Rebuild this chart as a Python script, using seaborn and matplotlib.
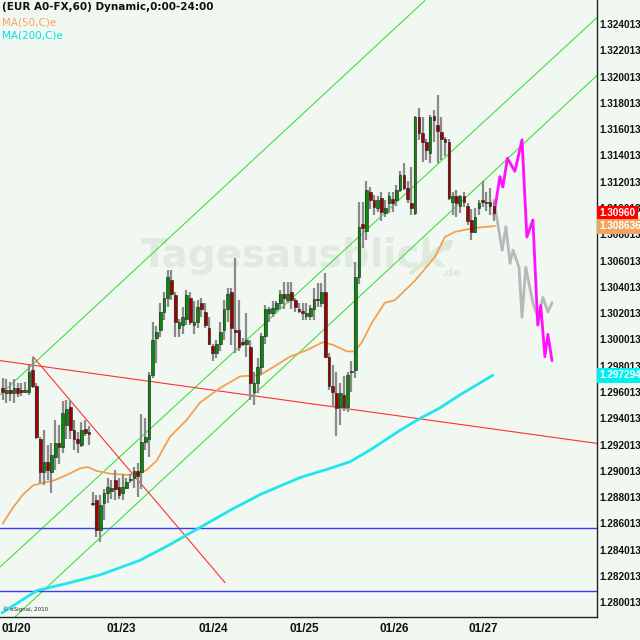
import numpy as np
import pandas as pd
import matplotlib.pyplot as plt
import matplotlib.transforms as mtransforms
import seaborn as sns

# --- hourly EUR/USD candles ---
opens = [1.2963, 1.2959, 1.2962, 1.2959, 1.2963, 1.2962, 1.2960, 1.2960, 1.2977, 1.2965,
         1.2924, 1.2899, 1.2907, 1.2899, 1.2911, 1.2921, 1.2918, 1.2935, 1.2949, 1.2931,
         1.2924, 1.2920, 1.2932, 1.2930, 1.2876, 1.2878, 1.2855, 1.2876, 1.2883, 1.2885,
         1.2893, 1.2888, 1.2883, 1.2887, 1.2893, 1.2895, 1.2900, 1.2899, 1.2922, 1.2924,
         1.2973, 1.3001, 1.3007, 1.3021, 1.3032, 1.3045, 1.3034, 1.3009, 1.3011, 1.3016,
         1.3032, 1.3011, 1.3013, 1.3028, 1.3021, 1.3009, 1.2995, 1.2990, 1.2997, 1.3007,
         1.3023, 1.3036, 1.3007, 1.3007, 1.2998, 1.2997, 1.2994, 1.2960, 1.2967, 1.2979,
         1.3003, 1.3020, 1.3020, 1.3023, 1.3028, 1.3035, 1.3030, 1.3036, 1.3030, 1.3023,
         1.3022, 1.3018, 1.3018, 1.3023, 1.3031, 1.3028, 1.3036, 1.2987, 1.2965, 1.2959,
         1.2949, 1.2958, 1.2949, 1.2975, 1.2977, 1.3048, 1.3088, 1.3083, 1.3112, 1.3106,
         1.3100, 1.3108, 1.3096, 1.3104, 1.3107, 1.3106, 1.3114, 1.3125, 1.3115, 1.3104,
         1.3096, 1.3169, 1.3157, 1.3150, 1.3142, 1.3170, 1.3163, 1.3158, 1.3153, 1.3150,
         1.3105, 1.3109, 1.3102, 1.3109, 1.3102, 1.3091, 1.3082, 1.3100, 1.3106, 1.3104,
         1.3105, 1.3102]
highs = [1.2971, 1.2970, 1.2968, 1.2970, 1.2967, 1.2967, 1.2968, 1.2981, 1.2987, 1.2967,
         1.2926, 1.2931, 1.2920, 1.2921, 1.2939, 1.2935, 1.2953, 1.2954, 1.2954, 1.2939,
         1.2930, 1.2937, 1.2939, 1.2934, 1.2884, 1.2882, 1.2882, 1.2886, 1.2895, 1.2893,
         1.2901, 1.2895, 1.2898, 1.2895, 1.2898, 1.2903, 1.2906, 1.2943, 1.2940, 1.2975,
         1.3013, 1.3010, 1.3028, 1.3036, 1.3053, 1.3053, 1.3036, 1.3016, 1.3025, 1.3038,
         1.3036, 1.3029, 1.3030, 1.3032, 1.3028, 1.3017, 1.2997, 1.3000, 1.3013, 1.3030,
         1.3039, 1.3039, 1.3062, 1.3030, 1.3001, 1.3020, 1.3000, 1.2975, 1.2986, 1.3005,
         1.3026, 1.3025, 1.3029, 1.3029, 1.3038, 1.3044, 1.3044, 1.3044, 1.3032, 1.3028,
         1.3028, 1.3028, 1.3026, 1.3039, 1.3043, 1.3043, 1.3051, 1.2990, 1.2981, 1.2975,
         1.2967, 1.2972, 1.2975, 1.2984, 1.3059, 1.3105, 1.3105, 1.3121, 1.3116, 1.3110,
         1.3109, 1.3112, 1.3106, 1.3112, 1.3112, 1.3118, 1.3128, 1.3134, 1.3121, 1.3131,
         1.3170, 1.3176, 1.3169, 1.3153, 1.3171, 1.3175, 1.3186, 1.3169, 1.3154, 1.3153,
         1.3112, 1.3114, 1.3110, 1.3112, 1.3104, 1.3099, 1.3100, 1.3106, 1.3121, 1.3112,
         1.3115, 1.3105]
lows = [1.2954, 1.2952, 1.2953, 1.2952, 1.2956, 1.2957, 1.2959, 1.2958, 1.2963, 1.2924,
        1.2891, 1.2889, 1.2893, 1.2883, 1.2901, 1.2905, 1.2914, 1.2924, 1.2924, 1.2916,
        1.2914, 1.2918, 1.2927, 1.2920, 1.2873, 1.2850, 1.2846, 1.2863, 1.2876, 1.2879,
        1.2878, 1.2879, 1.2878, 1.2886, 1.2891, 1.2887, 1.2880, 1.2886, 1.2916, 1.2911,
        1.2971, 1.2982, 1.3002, 1.3015, 1.3025, 1.3030, 1.3002, 1.3002, 1.3004, 1.3011,
        1.3011, 1.3004, 1.3009, 1.3017, 1.3009, 1.2996, 1.2984, 1.2986, 1.2991, 1.3000,
        1.3013, 1.2996, 1.2990, 1.2991, 1.2995, 1.2987, 1.2954, 1.2950, 1.2959, 1.2973,
        1.2997, 1.3013, 1.3017, 1.3020, 1.3023, 1.3023, 1.3028, 1.3023, 1.3021, 1.3020,
        1.3015, 1.3015, 1.3015, 1.3015, 1.3025, 1.3025, 1.2986, 1.2962, 1.2949, 1.2927,
        1.2935, 1.2946, 1.2945, 1.2960, 1.2971, 1.3042, 1.3070, 1.3076, 1.3099, 1.3095,
        1.3097, 1.3090, 1.3093, 1.3096, 1.3097, 1.3102, 1.3112, 1.3114, 1.3104, 1.3095,
        1.3095, 1.3152, 1.3135, 1.3137, 1.3134, 1.3150, 1.3134, 1.3137, 1.3140, 1.3106,
        1.3095, 1.3093, 1.3096, 1.3101, 1.3087, 1.3076, 1.3081, 1.3095, 1.3101, 1.3098,
        1.3095, 1.3090]
closes = [1.2960, 1.2962, 1.2959, 1.2963, 1.2959, 1.2960, 1.2962, 1.2975, 1.2965, 1.2926,
          1.2899, 1.2907, 1.2901, 1.2912, 1.2921, 1.2918, 1.2944, 1.2947, 1.2931, 1.2924,
          1.2921, 1.2931, 1.2929, 1.2928, 1.2875, 1.2855, 1.2874, 1.2883, 1.2888, 1.2887,
          1.2886, 1.2882, 1.2888, 1.2892, 1.2893, 1.2900, 1.2896, 1.2922, 1.2926, 1.2973,
          1.3000, 1.3006, 1.3021, 1.3032, 1.3048, 1.3035, 1.3013, 1.3013, 1.3017, 1.3034,
          1.3013, 1.3013, 1.3025, 1.3023, 1.3011, 1.2997, 1.2990, 1.2997, 1.3006, 1.3023,
          1.3035, 1.3009, 1.3006, 1.2994, 1.2997, 1.3000, 1.2967, 1.2967, 1.2979, 1.3003,
          1.3023, 1.3023, 1.3024, 1.3028, 1.3035, 1.3032, 1.3035, 1.3030, 1.3025, 1.3022,
          1.3020, 1.3020, 1.3024, 1.3031, 1.3030, 1.3036, 1.2987, 1.2965, 1.2960, 1.2948,
          1.2959, 1.2949, 1.2973, 1.2976, 1.3048, 1.3086, 1.3085, 1.3114, 1.3106, 1.3101,
          1.3106, 1.3097, 1.3100, 1.3109, 1.3104, 1.3114, 1.3125, 1.3115, 1.3107, 1.3100,
          1.3169, 1.3157, 1.3150, 1.3144, 1.3169, 1.3167, 1.3159, 1.3153, 1.3150, 1.3108,
          1.3109, 1.3104, 1.3109, 1.3105, 1.3090, 1.3082, 1.3093, 1.3104, 1.3105, 1.3104,
          1.3102, 1.3096]

# moving averages (bar position, price)
ma50_bar = [0, 2.7, 5.4, 8.1, 10.7, 13.9, 17.1, 20.6, 22.7, 25.1, 28.6, 33.1, 36.6, 38.5,
            41.1, 44.6, 49.1, 52.6, 57.9, 63.3, 68.6, 72.1, 76.6, 81.1, 85.4, 88.1, 91.8,
            93.9, 95.8, 98.5, 101.9, 104.6, 110.0, 115.3, 117.9, 120.6, 125.9, 131.3]
ma50_val = [1.2860, 1.2872, 1.2882, 1.2889, 1.2891, 1.2893, 1.2897, 1.2902, 1.2903, 1.2900,
            1.2898, 1.2897, 1.2898, 1.2901, 1.2908, 1.2926, 1.2939, 1.2952, 1.2963, 1.2972,
            1.2973, 1.2979, 1.2987, 1.2992, 1.2998, 1.2996, 1.2991, 1.2991, 1.2998, 1.3013,
            1.3028, 1.3030, 1.3045, 1.3063, 1.3078, 1.3082, 1.3085, 1.30864]
ma200_bar = [-0.2, 9.1, 17.9, 26.0, 36.6, 44.6, 52.6, 60.6, 68.6, 79.3, 87.3, 92.6, 98.0,
             106.0, 111.3, 116.6, 122.0, 127.3, 130.7]
ma200_val = [1.2792, 1.2809, 1.2815, 1.2821, 1.2832, 1.2844, 1.2857, 1.2870, 1.2882, 1.2895,
             1.2902, 1.2907, 1.2916, 1.2931, 1.2940, 1.2948, 1.2958, 1.2967, 1.29729]

# projected paths
proj_bar = [131.0, 132.6, 133.4, 134.6, 136.6, 138.5, 139.8, 141.4, 142.7, 143.5, 144.6, 145.4, 146.5]
proj_pink = [1.3095, 1.3124, 1.3116, 1.3138, 1.3128, 1.3152, 1.3078, 1.3091, 1.3011, 1.3026,
             1.2987, 1.3004, 1.2984]
ghost_bar = [131.0, 133.2, 134.2, 135.3, 136.1, 137.7, 138.5, 139.5, 141.4, 142.7, 144.1, 145.4, 146.5]
ghost_val = [1.3106, 1.3068, 1.3086, 1.3058, 1.3068, 1.3055, 1.3017, 1.3055, 1.3028, 1.3017,
             1.3032, 1.3021, 1.3028]

# trend lines: (bar0, price0, bar1, price1)
green_lines = [(-0.7, 1.2958, 112.6, 1.3258),
               (-0.7, 1.2827, 158.5, 1.3245),
               (3.3, 1.2789, 158.5, 1.3201)]
red_lines = [(-0.7, 1.2984, 158.5, 1.2921),
             (8.1, 1.2987, 59.3, 1.2815)]
blue_levels = [1.2857, 1.2809]

day_pos = [-0.2, 27.8, 52.1, 76.4, 100.4, 124.3]
day_lbl = ['01/20', '01/23', '01/24', '01/25', '01/26', '01/27']
price_ticks = [1.280013 + 0.002 * k for k in range(23)]

bg = '#f1f8f1'
sns.set_theme(style="white", rc={'figure.facecolor': bg, 'axes.facecolor': bg})
scale_font = ['Liberation Sans', 'DejaVu Sans']

fig = plt.figure(figsize=(6.4, 6.4), dpi=100)
ax = fig.add_axes([0, 23 / 640, 597 / 640, 617 / 640])

# watermark
ax.text(0.235, 0.585, 'Tagesausblick', transform=ax.transAxes, fontsize=28, fontweight='bold',
        color='#e0eae0', ha='left', va='center', zorder=0)
ax.text(0.74, 0.552, '.de', transform=ax.transAxes, fontsize=8, fontweight='bold',
        color='#dde8dd', zorder=0)
ax.annotate('', xy=(0.765, 0.615), xytext=(0.685, 0.555), xycoords='axes fraction',
            arrowprops=dict(arrowstyle='-|>', color='#dbe8d6', lw=3), zorder=0)

for b0, p0, b1, p1 in green_lines:
    ax.plot([b0, b1], [p0, p1], color='#44dd44', lw=0.8, zorder=1)
for b0, p0, b1, p1 in red_lines:
    ax.plot([b0, b1], [p0, p1], color='#ff3030', lw=0.8, zorder=1)
for lv in blue_levels:
    ax.axhline(lv, color='#3a3aff', lw=1.0, zorder=1)

sns.lineplot(x=ma50_bar, y=ma50_val, color='#f5a050', lw=1.3, ax=ax, zorder=2)
sns.lineplot(x=ma200_bar, y=ma200_val, color='#22e4ee', lw=2.0, ax=ax, zorder=2)
sns.lineplot(x=ghost_bar, y=ghost_val, color='#b8b8b8', lw=2.0, ax=ax, zorder=2)
sns.lineplot(x=proj_bar, y=proj_pink, color='#ff10ff', lw=2.0, ax=ax, zorder=3)

df = pd.DataFrame({'o': opens, 'h': highs, 'l': lows, 'c': closes})
df['x'] = np.arange(len(df))
ax.vlines(df['x'], df['l'], df['h'], color='#8a8a8a', lw=1.6, zorder=3)
up = df['c'] >= df['o']
body = (df['c'] - df['o']).abs().clip(lower=0.00008)
ax.bar(df['x'][up], body[up], bottom=df[['o', 'c']].min(axis=1)[up], width=0.72,
       color='#0a8a0a', edgecolor='#1a1a1a', lw=0.4, zorder=4)
ax.bar(df['x'][~up], body[~up], bottom=df[['o', 'c']].min(axis=1)[~up], width=0.72,
       color='#a00000', edgecolor='#1a1a1a', lw=0.4, zorder=4)

ax.set_xlim(-0.72, 158.5)
ax.set_ylim(1.27889, 1.32584)
for s in ['left', 'top']:
    ax.spines[s].set_visible(False)
for s in ['right', 'bottom']:
    ax.spines[s].set_color('#222222')
    ax.spines[s].set_linewidth(1.0)

ax.yaxis.tick_right()
ax.set_yticks(price_ticks)
ax.set_yticklabels([f'{v:.6f}' for v in price_ticks], family=scale_font, fontsize=7.2,
                   fontweight='bold', color='#111111')
ax.tick_params(axis='y', length=0, pad=1.5)
ax.set_xticks(day_pos)
ax.set_xticklabels(day_lbl, family=scale_font, fontsize=8.5, fontweight='bold', color='#111111')
for t in ax.get_xticklabels():
    t.set_ha('left')
ax.tick_params(axis='x', length=3, width=1, direction='out', pad=1, color='#222222')
ax.grid(False)

# last-value boxes on the price scale
trans = mtransforms.blended_transform_factory(ax.transAxes, ax.transData)
for txt, val, fc in [('1.30960', 1.3096, '#ff0000'), ('1.308636', 1.308636, '#f4a460'),
                     ('1.297294', 1.297294, '#00f0f0')]:
    ax.text(1.004, val, txt, transform=trans, family=scale_font, fontsize=7.2, fontweight='bold',
            color='white', va='center', ha='left', clip_on=False, zorder=10,
            bbox=dict(facecolor=fc, edgecolor='none', boxstyle='square,pad=0.25'))

fig.text(0.003, 0.997, '(EUR A0-FX,60) Dynamic,0:00-24:00', fontsize=7.5, fontweight='bold',
         color='#111111', va='top', ha='left')
fig.text(0.003, 0.972, 'MA(50,C)e', fontsize=7.5, color='#f4a460', va='top', ha='left')
fig.text(0.003, 0.953, 'MA(200,C)e', fontsize=7.5, color='#00e0e8', va='top', ha='left')
fig.text(0.004, 0.043, '© eSignal, 2010', fontsize=4, color='#222222', va='bottom', ha='left')

fig.savefig('out.png', dpi=100, facecolor=bg)
